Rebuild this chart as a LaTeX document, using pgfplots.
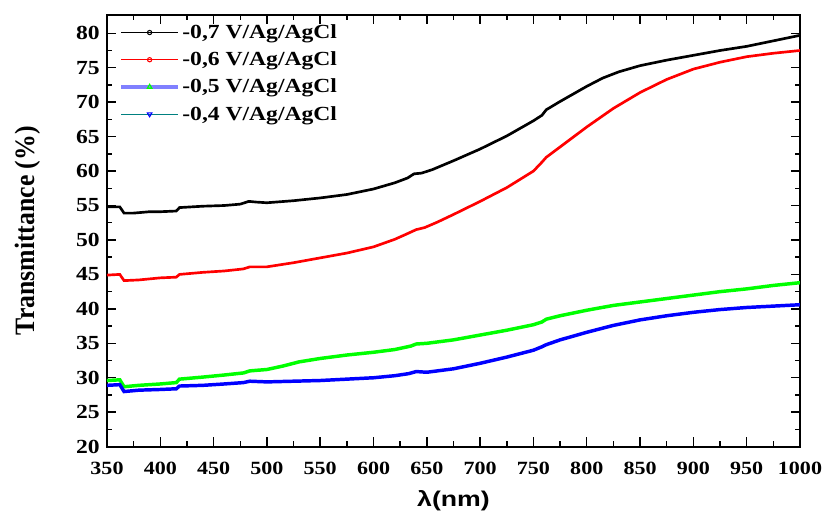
\documentclass[border=0pt]{standalone}
\usepackage{pgfplots}
\pgfplotsset{compat=1.18}
\usepackage{fontspec}
\setmainfont[FakeStretch=1.18]{Liberation Serif}
\newfontfamily\plainserif{Liberation Serif}
\newfontfamily\arialx[FakeStretch=1.25]{Liberation Sans}
\definecolor{lav}{HTML}{8080FF}
\definecolor{tealc}{HTML}{008080}
\begin{document}
\begin{tikzpicture}
\begin{axis}[
  scale only axis,
  width=519.75pt, height=324pt,
  xmin=350, xmax=1000, ymin=20, ymax=82.7,
  xtick={350,400,...,1000}, ytick={20,25,...,80},
  minor x tick num=1, minor y tick num=1,
  tick align=inside,
  major tick length=7pt, minor tick length=4pt,
  every tick/.style={black, line width=1.1pt},
  axis line style={line width=1.4pt},
  /pgf/number format/assume math mode=true,
  /pgf/number format/1000 sep={},
  xticklabel style={font=\bfseries\fontsize{14}{16}\selectfont, yshift=-8pt},
  yticklabel style={font=\bfseries\fontsize{15}{17}\selectfont, xshift=-2pt},
  xlabel={\arialx\bfseries\fontsize{16}{18}\selectfont λ(nm)},
  ylabel={\scalebox{0.92}[1]{\plainserif\bfseries\fontsize{21}{23}\selectfont Transmittance (\%)}},
  xlabel style={yshift=-5pt},
  ylabel style={yshift=20pt},
  legend style={at={(0.012,0.99)}, anchor=north west, draw=none, fill=none,
    font=\bfseries\fontsize{15}{17}\selectfont, row sep=4.5pt},
  legend cell align=left,
  legend image code/.code={\draw[mark repeat=2,mark phase=2,#1] plot coordinates {(0cm,0cm) (0.75cm,0cm) (1.5cm,0cm)};},
]
\addplot[black, line width=2pt, forget plot] coordinates {
(350,54.8)(362,54.8)(366,53.9)(375,53.9)(390,54.1)(400,54.1)(415,54.2)(418,54.7)(440,54.9)(460,55.0)(475,55.2)(483,55.6)(490,55.5)(500,55.4)(525,55.7)(550,56.1)(575,56.6)(600,57.4)(620,58.3)(632,59.0)(638,59.6)(645,59.7)(655,60.2)(675,61.5)(700,63.2)(725,65.1)(750,67.3)(758,68.1)(762,68.9)(775,70.1)(800,72.3)(815,73.5)(830,74.4)(850,75.3)(875,76.1)(900,76.8)(925,77.5)(950,78.1)(975,78.9)(1000,79.7)};
\addplot[red, line width=2pt, forget plot] coordinates {
(350,44.9)(362,45.0)(366,44.1)(380,44.2)(400,44.5)(415,44.6)(418,45.0)(440,45.3)(460,45.5)(478,45.8)(484,46.1)(500,46.1)(525,46.7)(550,47.4)(575,48.1)(600,49.0)(620,50.1)(633,51.0)(640,51.5)(648,51.8)(660,52.6)(675,53.7)(700,55.6)(725,57.6)(750,60.0)(758,61.3)(762,62.0)(775,63.5)(800,66.4)(825,69.1)(850,71.4)(875,73.3)(900,74.8)(925,75.8)(950,76.6)(975,77.1)(1000,77.5)};
\addplot[green, line width=2.6pt, forget plot] coordinates {
(350,29.6)(362,29.7)(366,28.7)(380,28.9)(400,29.1)(415,29.3)(418,29.8)(440,30.1)(460,30.4)(478,30.7)(484,31.0)(500,31.2)(515,31.7)(530,32.3)(550,32.8)(575,33.3)(600,33.7)(620,34.1)(635,34.6)(640,34.9)(650,35.0)(675,35.5)(700,36.2)(725,36.9)(750,37.7)(758,38.1)(762,38.5)(775,39.0)(800,39.8)(825,40.5)(850,41.0)(875,41.5)(900,42.0)(925,42.5)(950,42.9)(975,43.4)(1000,43.8)};
\addplot[blue, line width=2.6pt, forget plot] coordinates {
(350,28.9)(362,29.0)(366,28.0)(380,28.2)(400,28.3)(415,28.4)(418,28.8)(440,28.9)(460,29.1)(478,29.3)(484,29.5)(500,29.4)(525,29.5)(550,29.6)(575,29.8)(600,30.0)(620,30.3)(633,30.6)(640,30.9)(650,30.8)(675,31.3)(700,32.1)(725,33.0)(750,34.0)(758,34.5)(762,34.8)(775,35.5)(800,36.6)(825,37.6)(850,38.4)(875,39.0)(900,39.5)(925,39.9)(950,40.2)(975,40.4)(1000,40.6)};
\addlegendimage{black, line width=0.6pt, mark=o, mark size=1.6pt, mark options={line width=0.8pt}}
\addlegendentry{-0,7 V/Ag/AgCl}
\addlegendimage{red, line width=0.6pt, mark=o, mark size=1.6pt, mark options={line width=0.8pt}}
\addlegendentry{-0,6 V/Ag/AgCl}
\addlegendimage{lav, line width=2.4pt, mark=triangle, mark size=2pt, mark options={green, line width=0.8pt}}
\addlegendentry{-0,5 V/Ag/AgCl}
\addlegendimage{tealc, line width=0.8pt, mark=triangle, mark size=2pt, mark options={blue, rotate=180, line width=0.8pt}}
\addlegendentry{-0,4 V/Ag/AgCl}
\end{axis}
\pgfresetboundingbox
\path (current axis.south west) ++(-80.25pt,-52.75pt) rectangle ++(619.5pt,387.75pt);
\end{tikzpicture}
\end{document}
